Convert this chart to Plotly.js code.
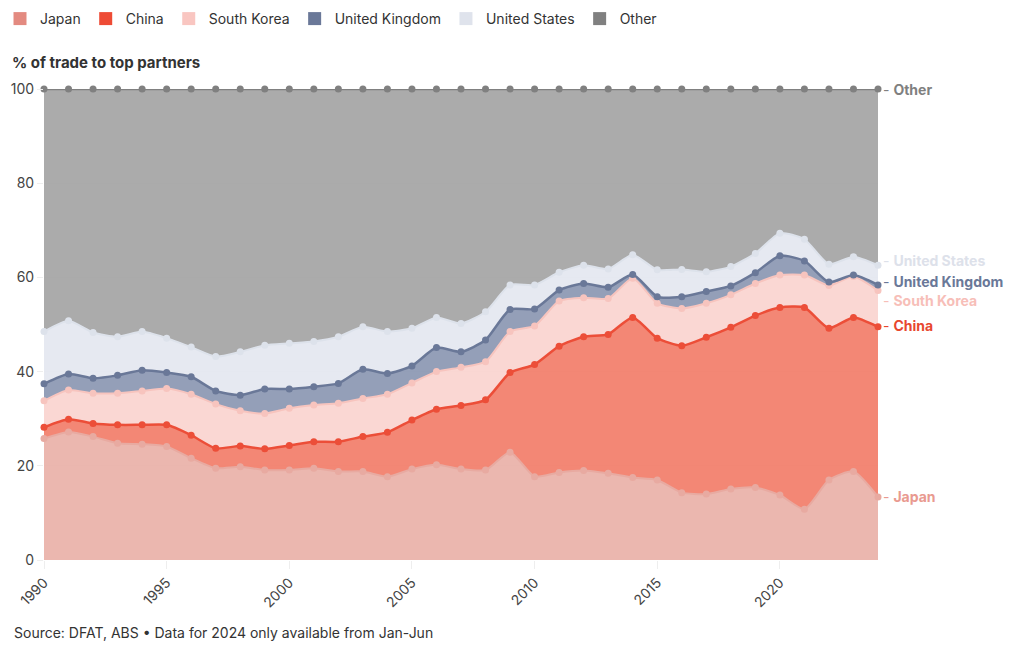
<!DOCTYPE html>
<html>
<head>
<meta charset="utf-8">
<script src="https://cdn.plot.ly/plotly-3.0.1.min.js"></script>
<style>html,body{margin:0;padding:0;background:#fff;}#chart{width:1020px;height:650px;}</style>
</head>
<body>
<div id="chart"></div>
<script>
// Years
const years = [1990,1991,1992,1993,1994,1995,1996,1997,1998,1999,2000,2001,2002,2003,2004,2005,2006,2007,2008,2009,2010,2011,2012,2013,2014,2015,2016,2017,2018,2019,2020,2021,2022,2023,2024];
// Shares of trade (%) by partner
const japan = [25.8,27.2,26.2,24.8,24.6,24.1,21.6,19.5,19.8,19.1,19.1,19.5,18.8,18.8,17.7,19.3,20.2,19.3,19.1,22.9,17.7,18.6,19.0,18.4,17.5,17.0,14.3,14.0,15.1,15.4,13.8,10.8,17.0,18.8,13.4];
const china = [2.4,2.7,2.8,3.9,4.1,4.6,4.9,4.2,4.4,4.5,5.2,5.6,6.3,7.4,9.4,10.4,11.8,13.5,14.9,16.9,23.8,26.8,28.4,29.5,34.0,30.1,31.2,33.3,34.3,36.5,39.8,42.8,32.2,32.7,36.1];
const southKorea = [5.6,6.2,6.4,6.7,7.2,7.7,8.7,9.4,7.5,7.5,7.9,7.8,8.2,8.1,8.1,7.9,8.0,8.1,8.1,8.7,8.2,9.6,8.3,7.6,8.3,7.4,7.9,7.2,6.9,6.8,6.9,6.9,9.1,8.7,7.7];
const unitedKingdom = [3.6,3.4,3.2,3.8,4.4,3.4,3.7,2.8,3.3,5.2,4.1,3.9,4.2,6.2,4.4,3.6,5.1,3.3,4.6,4.7,3.6,2.3,3.0,2.4,0.8,1.4,2.5,2.5,1.9,2.3,4.1,3.0,0.7,0.3,1.2];
const unitedStates = [11.1,11.3,9.7,8.2,8.2,7.3,6.3,7.3,9.2,9.3,9.7,9.6,9.9,9.0,8.9,8.0,6.4,6.0,6.0,5.2,5.1,3.8,3.9,3.9,4.2,5.7,5.8,4.2,4.1,4.1,4.8,4.6,3.8,3.9,4.2];
const other = [51.5,49.2,51.7,52.6,51.5,52.9,54.8,56.8,55.8,54.4,54.0,53.6,52.6,50.5,51.5,50.8,48.5,49.8,47.3,41.6,41.6,38.9,37.4,38.2,35.2,38.4,38.3,38.8,37.7,34.9,30.6,31.9,37.2,35.6,37.4];

const names = ['Japan','China','South Korea','United Kingdom','United States','Other'];
const seriesVals = [japan, china, southKorea, unitedKingdom, unitedStates, other];
const fillColors = ['rgba(234,178,170,0.94)','rgba(242,128,108,0.94)','rgba(250,212,208,0.94)','rgba(141,153,180,0.94)','rgba(228,232,240,0.94)','rgba(166,166,166,0.94)'];
const lineColors = ['#e8aaa1','#ec4e38','#f7c4be','#6a7898','#dde2eb','#808080'];
const lineWidths = [2,2.5,2,2.5,2,2.5];
const legendColors = ['#e38a80','#ee4b35','#f9c6c1','#6a7898','#dfe3ec','#808080'];
const labelColors = ['#e99a90','#e8472f','#f7beb8','#6a7898','#dde1ea','#808080'];
// label vertical positions (value units) used to avoid overlap
const labelPos = [13.4, 49.7, 55.2, 59.2, 63.5, 100];

const font = 'Inter, "Open Sans", sans-serif';
const traces = [];
names.forEach((n,i)=>{
  traces.push({
    x: years, y: seriesVals[i], name: n, type:'scatter', mode:'lines+markers',
    stackgroup:'one', fillcolor: fillColors[i],
    line:{color:lineColors[i], width:lineWidths[i], shape:'spline', smoothing:0.6},
    marker:{color:lineColors[i], size:7},
    showlegend:false, cliponaxis:false, hoverinfo:'x+y+name'
  });
});
names.forEach((n,i)=>{
  traces.push({
    x:[null], y:[null], name:n, type:'scatter', mode:'markers',
    marker:{symbol:'square', size:13, color:legendColors[i]},
    showlegend:true, hoverinfo:'skip'
  });
});

const annotations = names.map((n,i)=>({
  x: 2024, y: labelPos[i], xref:'x', yref:'y', xanchor:'left', yanchor:'middle',
  xshift: 3, showarrow:false,
  text: '- <b>'+n+'</b>',
  font:{family:font, size:14, color:labelColors[i]}
}));
annotations.push({
  xref:'paper', yref:'paper', x: -32/834, y: -72/471, xanchor:'left', yanchor:'middle',
  showarrow:false, text:'Source: DFAT, ABS • Data for 2024 only available from Jan-Jun',
  font:{family:font, size:14, color:'#333'}
});

const layout = {
  width:1020, height:650,
  margin:{l:44, r:142, t:89, b:90},
  paper_bgcolor:'#fff', plot_bgcolor:'#fff',
  font:{family:font, size:14, color:'#444'},
  title:{text:'<b>% of trade to top partners</b>', x:12/1020, xref:'container', xanchor:'left',
         y:1-63/650, yref:'container', yanchor:'middle', font:{family:font, size:15, color:'#333'}},
  showlegend:true,
  legend:{orientation:'h', traceorder:'normal', x:0, xref:'container', xanchor:'left', y:1-19/650, yref:'container', yanchor:'middle',
          font:{family:font, size:14, color:'#333'}, itemwidth:30, tracegroupgap:0, bgcolor:'rgba(0,0,0,0)'},
  xaxis:{range:[1990,2024], tickvals:[1990,1995,2000,2005,2010,2015,2020], tickangle:-45,
         ticks:'outside', ticklen:8, tickcolor:'#eeeeee', showgrid:false, zeroline:false, showline:false,
         tickfont:{family:font, size:14, color:'#444'}, fixedrange:true},
  yaxis:{range:[0,100], tickvals:[0,20,40,60,80,100], ticks:'outside', ticklen:6, tickcolor:'#eeeeee',
         gridcolor:'rgba(0,0,0,0.07)', zeroline:false, showline:false,
         tickfont:{family:font, size:14, color:'#444'}, fixedrange:true},
  annotations: annotations
};

Plotly.newPlot('chart', traces, layout, {displayModeBar:false, staticPlot:true});
</script>
</body>
</html>
